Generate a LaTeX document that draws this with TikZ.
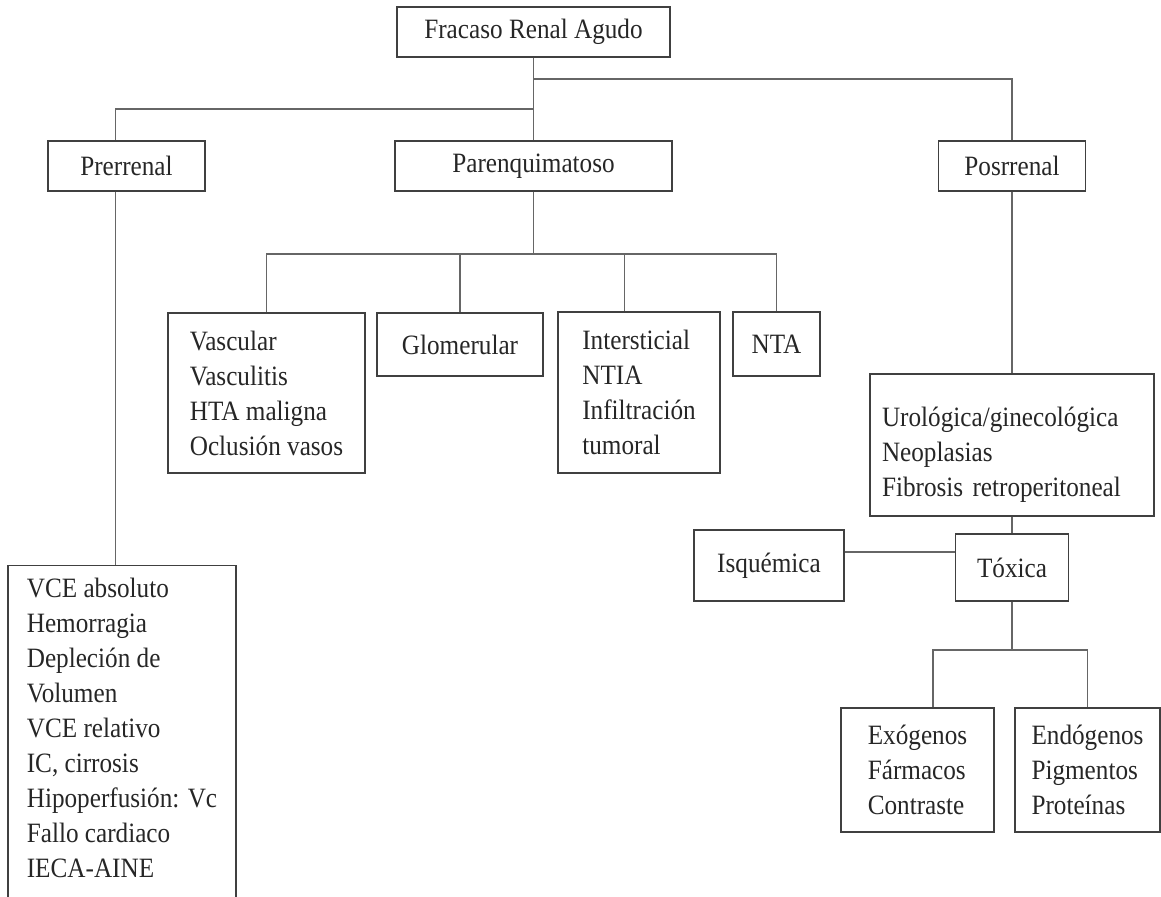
\documentclass[tikz,border=0pt]{standalone}
\usepackage{fontspec}
\setmainfont{Liberation Serif}[FakeStretch=0.9]
\usetikzlibrary{positioning, calc}

\begin{document}
\begin{tikzpicture}[x=0.5pt, y=-0.5pt,
		box/.style={draw=black!75, line width=0.7pt, inner sep=0pt, text=black!85, font=\fontsize{14}{17.5}\selectfont},
		link/.style={draw=black!60, line width=0.8pt}]
			\useasboundingbox (0,0) rectangle (1161,896);
			\node (fra) [box, minimum width=136.5pt, minimum height=25pt] at (533.5,32) {Fracaso Renal Agudo};
			\node (pre) [box, minimum width=78.5pt, minimum height=25pt] at (126.5,166) {Prerrenal};
			\node (par) [box, minimum width=138.5pt, minimum height=25pt] at (533.5,166) {Parenquimatoso};
			\node (pos) [box, minimum width=73.5pt, minimum height=25pt] at (1012,166) {Posrrenal};
			
			\node (vas) [box, minimum width=98.5pt, minimum height=80pt, align=left] at (266.5,393) {Vascular\\Vasculitis\\HTA maligna\\Oclusión vasos};
			\node (glo) [box, minimum width=83pt, minimum height=31.5pt] at (460,344.5) {Glomerular};
			\node (int) [box, minimum width=81pt, minimum height=80.5pt, align=left] at (639,392.5) {Intersticial\\NTIA\\Infiltración\\tumoral};
			\node (nta) [box, minimum width=43.5pt, minimum height=32pt] at (776.5,344) {NTA};
			
			\node (lst) [box, anchor=north, minimum width=114pt, inner ysep=6pt, text depth=30pt, align=left] at (122,565) {VCE absoluto\\Hemorragia\\Depleción de\\Volumen\\VCE relativo\\IC, cirrosis\\Hipoperfusión: Vc\\Fallo cardiaco\\IECA-AINE};
			
			\node (uro) [box, inner xsep=6pt, text width=130pt, minimum height=71pt, text height=19pt, text depth=37.5pt, align=left] at (1012,445) {Urológica/ginecológica\\Neoplasias\\Fibrosis retroperitoneal};
			\node (tox) [box, minimum width=56.5pt, minimum height=33.5pt] at (1012,567.5) {Tóxica};
			\node (isq) [box, minimum width=75pt, minimum height=35.5pt] at (769,565.5) {Isquémica};
			\node (exo) [box, minimum width=76.5pt, minimum height=62pt, align=left] at (917.5,770) {Exógenos\\Fármacos\\Contraste};
			\node (endo) [box, minimum width=72.5pt, minimum height=62pt, align=left] at (1087.5,770) {Endógenos\\Pigmentos\\Proteínas};
			
			\coordinate (jR) at (533.5,79);
			\coordinate (jL) at (533.5,109);
			\coordinate (jP) at (533.5,254);
			\coordinate (jT) at (1012,650);
			
			\draw [link] (fra) -- (par);
			\draw [link] (jR) -| (pos);
			\draw [link] (jL) -| (pre.113);
			\draw [link] (pre.247) -- (pre.247 |- lst.north);
			\draw [link] (par) -- (jP);
			\foreach \n in {vas, glo, int.100, nta}
				\draw [link] (jP) -| (\n);
			\draw [link] (pos) -- (uro);
			\draw [link] (uro) -- (tox);
			\draw [link] (isq.10) -- (isq.10 -| tox.west);
			\draw [link] (tox) -- (jT);
			\draw [link] (jT) -| (exo.76);
			\draw [link] (jT) -| (endo);
		\end{tikzpicture}
\end{document}
